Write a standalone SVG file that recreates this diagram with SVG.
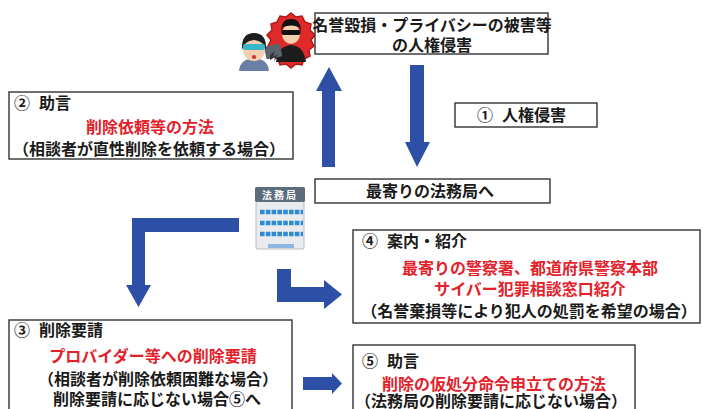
<svg xmlns="http://www.w3.org/2000/svg" width="703" height="409" viewBox="0 0 703 409">
  <defs>
    <style>
      .box { fill: #ffffff; stroke: #333333; stroke-width: 1.4; }
      .t { font-family: "Noto Sans CJK JP", "Noto Sans", sans-serif; font-weight: 700; fill: #1a1a1a; font-size: 16px; }
      .red { fill: #e3212b; }
      .mid { text-anchor: middle; }
      .arrow { fill: #2d4fa6; }
      .stripe { fill: none; stroke: #2f8ad4; stroke-width: 4.5; stroke-dasharray: 4.6 1.2; }
    </style>
  </defs>

  <rect width="703" height="409" fill="#ffffff"/>

  <!-- people: victim and offender -->
  <g id="people">
    <!-- offender on a red burst -->
    <path d="M291,13 l5,4 6,-1 3,6 6,2 -1,6 5,5 -4,5 3,6 -5,4 1,6 -6,3 -2,6 -6,-1 -5,4 -5,-4 -6,1 -2,-6 -6,-3 1,-6 -5,-4 3,-6 -4,-5 5,-5 -1,-6 6,-2 3,-6 6,1 z" fill="#e02a2a" stroke="#b01818" stroke-width="1.5"/>
    <path d="M276,62 q2,-16 15,-17 q13,1 15,17 z" fill="#1c1c1c"/>
    <ellipse cx="291" cy="34" rx="9" ry="10" fill="#f6d0ae"/>
    <path d="M281,32 q0,-13 10,-13 q10,0 10,13 l-2,-5 q-8,-3 -16,0 z" fill="#111111"/>
    <rect x="281.5" y="30" width="19" height="5" rx="2" fill="#111111"/>
    <rect x="265" y="45" width="16" height="13" rx="1" fill="#5c6470" transform="rotate(-12 273 51)"/>
    <!-- victim -->
    <path d="M239,71 q1,-12 15,-13 q14,1 15,13 z" fill="#6a7fa6"/>
    <ellipse cx="254" cy="50" rx="11" ry="11" fill="#f6d0ae"/>
    <path d="M242,50 q-1,-17 12,-17 q13,0 12,17 q-2,-9 -12,-10 q-10,1 -12,10 z" fill="#1d1d1d"/>
    <rect x="243" y="44" width="22" height="6" rx="2" fill="#37b7c9"/>
    <ellipse cx="254" cy="57" rx="2.2" ry="2" fill="#c83a3a"/>
    <path d="M270,55 l5,-4 -2,6 5,-3 -4,8 1,-5 -5,3 z" fill="#333333"/>
  </g>

  <!-- connectors -->
  <g id="connectors">
    <polygon class="arrow" points="322,167 322,91 316,91 329,67 342,91 335,91 335,167"/>
    <polygon class="arrow" points="410,65 424,65 424,142 430,142 417,167 405,142 410,142"/>
    <polygon class="arrow" points="239,218 239,232 145,232 145,285 151,285 138.5,307 126,285 132,285 132,218"/>
    <polygon class="arrow" points="277,269 291,269 291,287 324,287 324,280 342,294.5 324,309 324,302 277,302"/>
    <polygon class="arrow" points="303,377 332,377 332,373 342,383.5 332,394 332,390 303,390"/>
  </g>

  <!-- legal affairs bureau icon -->
  <g id="bureau">
    <rect x="256" y="201" width="48" height="48" rx="2" fill="#e9ebef" stroke="#b8bcc4" stroke-width="1"/>
    <rect x="255" y="187" width="50" height="15" rx="1.5" fill="#5e6d7c"/>
    <text x="280" y="198.5" text-anchor="middle" font-family="Noto Sans CJK JP, sans-serif" font-weight="700" font-size="10" fill="#ffffff" letter-spacing="2">法務局</text>
    <line class="stripe" x1="260" y1="212" x2="303" y2="212"/>
    <line class="stripe" x1="260" y1="223" x2="303" y2="223"/>
    <line class="stripe" x1="260" y1="234" x2="303" y2="234"/>
    <rect x="268" y="244" width="26" height="4" fill="#8cb6df"/>
  </g>

  <g id="n-harm">
    <rect class="box" x="315" y="13" width="233" height="41"/>
    <text class="t mid" x="432" y="31" font-size="14.6">名誉毀損・プライバシーの被害等</text>
    <text class="t mid" x="432" y="51" font-size="14.6">の人権侵害</text>
  </g>

  <g id="n1">
    <rect class="box" x="455" y="103" width="142" height="24"/>
    <text class="t" y="121" font-size="17"><tspan x="477">①</tspan><tspan x="502">人権侵害</tspan></text>
  </g>

  <g id="n2">
    <rect class="box" x="9" y="92" width="284" height="67"/>
    <text class="t" y="109"><tspan x="14">②</tspan><tspan x="39">助言</tspan></text>
    <text class="t red mid" x="150" y="132.5" font-size="17">削除依頼等の方法</text>
    <text class="t mid" x="149" y="154.5" font-size="17.2">（相談者が直性削除を依頼する場合）</text>
  </g>

  <g id="n-bureau">
    <rect class="box" x="315" y="179" width="235" height="24"/>
    <text class="t mid" x="430" y="197">最寄りの法務局へ</text>
  </g>

  <g id="n4">
    <rect class="box" x="353" y="230" width="347" height="93"/>
    <text class="t" y="247"><tspan x="362">④</tspan><tspan x="387">案内・紹介</tspan></text>
    <text class="t red mid" x="530" y="274" font-size="16.5">最寄りの警察署、都道府県警察本部</text>
    <text class="t red mid" x="530" y="295" font-size="16.5">サイバー犯罪相談窓口紹介</text>
    <text class="t mid" x="529" y="316.5" font-size="16.5">（名誉棄損等により犯人の処罰を希望の場合）</text>
  </g>

  <g id="n3">
    <rect class="box" x="9" y="320" width="283" height="100"/>
    <text class="t" y="336"><tspan x="14">③</tspan><tspan x="39">削除要請</tspan></text>
    <text class="t red mid" x="153" y="362" font-size="16.5">プロバイダー等への削除要請</text>
    <text class="t mid" x="158" y="384.5" font-size="17">（相談者が削除依頼困難な場合）</text>
    <text class="t mid" x="157" y="404.5" font-size="17">削除要請に応じない場合⑤へ</text>
  </g>

  <g id="n5">
    <rect class="box" x="353" y="345" width="282" height="80"/>
    <text class="t" y="367"><tspan x="362">⑤</tspan><tspan x="387">助言</tspan></text>
    <text class="t red mid" x="494" y="390" font-size="17.5">削除の仮処分命令申立ての方法</text>
    <text class="t mid" x="491" y="407" font-size="17">（法務局の削除要請に応じない場合）</text>
  </g>
</svg>
